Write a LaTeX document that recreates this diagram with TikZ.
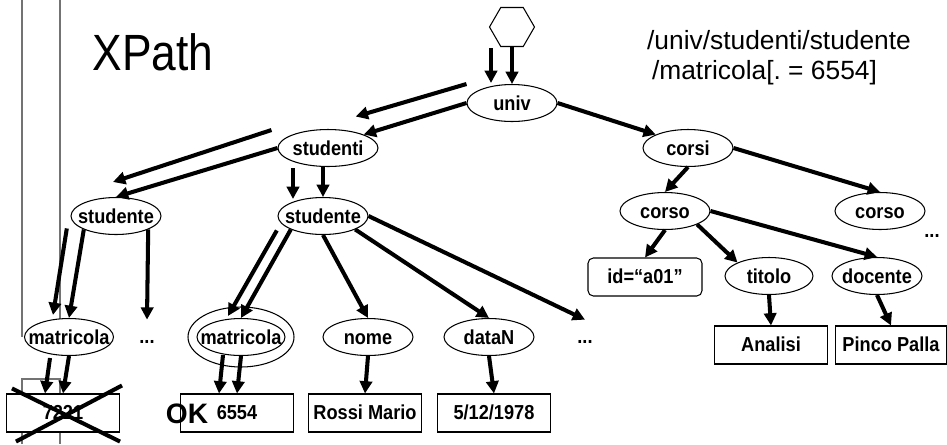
\documentclass[tikz,border=0pt]{standalone}
\usepackage{fontspec}
\setmainfont{Liberation Sans}
\newfontfamily\lblfam{Liberation Sans}[FakeStretch=0.9, Ligatures=TeX]
\usetikzlibrary{shapes.geometric, arrows.meta}

\newcommand{\lblfont}{\lblfam\fontsize{11.5}{13}\selectfont\bfseries}
\newcommand{\ctr}[1]{\makebox[0pt]{#1}}

\tikzset{
  tag/.style = {ellipse, draw, fill=white, line width=0.6pt, inner sep=0pt,
                minimum width=1.8cm, minimum height=0.74cm, font=\lblfont,
                text height=1.6ex, text depth=0pt},
  val/.style = {rectangle, draw, fill=white, line width=0.6pt, inner sep=0pt,
                minimum width=2.26cm, minimum height=0.76cm, font=\lblfont,
                text height=1.5ex, text depth=0pt},
  dots/.style = {inner sep=0pt, minimum height=0.88cm, font=\lblfont},
  arc/.style = {line width=2.3pt, -{Triangle[length=7pt, width=7pt]}},
  frame/.style = {black!55, line width=0.6pt}
}

\begin{document}
\begin{tikzpicture}[x=0.02cm, y=-0.02cm]
\useasboundingbox (0,0) rectangle (947,444);

\draw[frame] (22,0) -- (22,337);
\draw[frame] (60,0) -- (60,320);
\draw[frame] (22,444) -- (22,379) -- (60,379) -- (60,444);

\node (title) at (153,52) {\fontsize{29}{34}\selectfont\scalebox{0.87}[1]{XPath}};
\node (query) at (779,58) [align=left, font=\fontsize{15}{17}\selectfont] {/univ/studenti/studente\\\hspace*{2.8pt}/matricola[.\ = 6554]};

\node (root) at (512,27) [regular polygon, regular polygon sides=6, draw, fill=white, line width=0.6pt, inner sep=0pt, minimum size=0.9cm] {};
\node (univ) at (512,103) [tag] {\ctr{univ}};
\node (studenti) at (328,148) [tag, minimum width=2cm] {\ctr{studenti}};
\node (corsi) at (688,148) [tag] {\ctr{corsi}};
\node (stuL) at (116,216) [tag] {\ctr{studente}};
\node (stuM) at (323,216) [tag] {\ctr{studente}};
\node (corsoL) at (665,211) [tag] {\ctr{corso}};
\node (corsoR) at (880,211) [tag] {\ctr{corso}};
\node (dotsR) at (932,236) [dots] {...};
\node (idA) at (645,277) [val, rounded corners=3pt, minimum width=2.28cm] {id=“a01”};
\node (titolo) at (769,276) [tag, minimum width=1.76cm] {\ctr{titolo}};
\node (docente) at (877,276) [tag] {\ctr{docente}};
\node (analisi) at (771,345) [val] {Analisi};
\node (pinco) at (891,345) [val, minimum width=2.22cm] {Pinco Palla};

\node (matL) at (69,337) [tag, minimum width=1.78cm] {\ctr{matricola}};
\node (dotsL) at (147,342) [dots] {...};
\node (matM) at (241,337) [tag, minimum width=1.76cm] {\ctr{matricola}};
\draw[line width=0.6pt] (matM.center) ellipse (53 and 30);
\node (nome) at (368,337) [tag] {\ctr{nome}};
\node (dataN) at (489,337) [tag] {\ctr{dataN}};
\node (dotsM) at (585,342) [dots] {...};

\node (v7221) at (63,413) [val] {7221};
\node (v6554) at (237,413) [val] {6554};
\node (ok) at (187,414) [inner sep=0pt, font=\fontsize{16}{18}\selectfont\bfseries] {OK};
\node (rossi) at (365,413) [val] {Rossi Mario};
\node (data) at (494,413) [val] {5/12/1978};

\draw[arc] (root.south) -- (univ.north);
\draw[arc] (univ.west) -- (studenti.north east);
\draw[arc] (univ.east) -- (corsi.north west);
\draw[arc] (studenti.west) -- (stuL.north);
\draw[arc] (studenti.south -| stuM.north) -- (stuM.north);
\draw[arc] (corsi.east) -- (corsoR.north);
\draw[arc] (corsi.south) -- (corsoL.north);
\draw[arc] (corsoL.south) -- (idA.north);
\draw[arc] (corsoL.south east) -- (titolo.north west);
\draw[arc] (corsoL.east) -- (docente.north);
\draw[arc] (titolo.south) -- (analisi.north);
\draw[arc] (docente.south) -- (pinco.north);
\draw[arc] (stuL.south west) -- (matL.north);
\draw[arc] (stuL.south east) -- (dotsL.north);
\draw[arc] (stuM.south west) -- (matM.north);
\draw[arc] (stuM.south) -- (nome.north);
\draw[arc] (stuM.south east) -- (dataN.north);
\draw[arc] (stuM.east) -- (dotsM.north);
\draw[arc] (matL.south) -- (v7221.north);
\draw[arc] (matM.south) -- (v6554.north);
\draw[arc] (nome.south) -- (rossi.north);
\draw[arc] (dataN.south) -- (data.north);

\draw[arc] ([shift={(-21,1)}]root.south) -- ([shift={(-21,-1)}]univ.north);
\draw[arc] ([shift={(0,-19)}]univ.west) -- ([shift={(-8,-18)}]studenti.north east);
\draw[arc] ([shift={(-6,-18)}]studenti.west) -- ([shift={(-3,-15)}]stuL.north);
\draw[arc] ([shift={(-35,1)}]studenti.south) -- ([shift={(-30,2)}]stuM.north);
\draw[arc] ([shift={(-17,-1)}]stuL.south west) -- ([shift={(-16,-3)}]matL.north);
\draw[arc] ([shift={(-14,1)}]stuM.south west) -- ([shift={(-13,-2)}]matM.north);
\draw[arc] ([shift={(-19,2)}]matL.south) -- ([shift={(-18,0)}]v7221.north);
\draw[arc] ([shift={(-18,-1)}]matM.south) -- ([shift={(-18,0)}]v6554.north);

\draw[line width=2.3pt] ([shift={(6,-5)}]v7221.north west) -- ([shift={(0,9)}]v7221.south east);
\draw[line width=2.3pt] ([shift={(2,-8)}]v7221.north east) -- ([shift={(10,9)}]v7221.south west);

\end{tikzpicture}
\end{document}
